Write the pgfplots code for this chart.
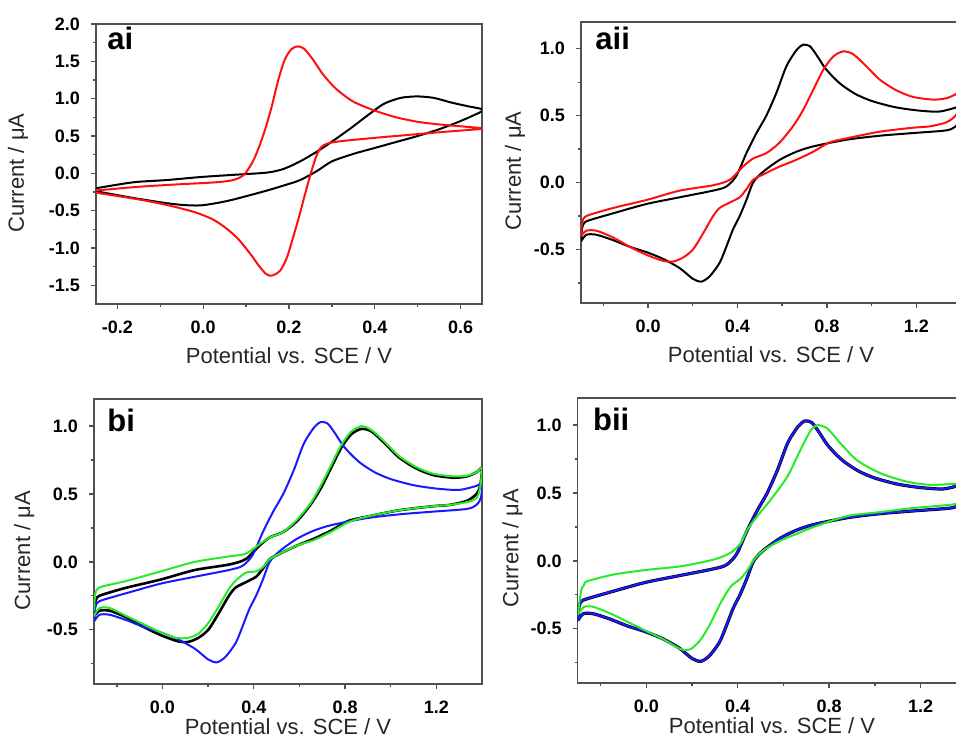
\documentclass[border=0pt]{standalone}
\usepackage{fontspec}
\setmainfont{Liberation Sans}
\usepackage{pgfplots}
\usepackage{pgfplotstable}
\pgfplotsset{compat=1.18}

\definecolor{cvred}{RGB}{255,15,15}
\definecolor{cvgreen}{RGB}{40,235,40}
\definecolor{cvblue}{RGB}{25,25,255}
\definecolor{frame}{RGB}{80,80,80}

% ---- panel ai ----
\pgfplotstableread{
x y
-0.25 -0.23
-0.15 -0.18
-0.05 -0.145
0.03 -0.12
0.07 -0.09
0.095 -0.02
0.115 0.15
0.13 0.35
0.145 0.60
0.16 0.90
0.175 1.25
0.19 1.52
0.205 1.66
0.22 1.70
0.235 1.67
0.255 1.53
0.28 1.32
0.31 1.13
0.35 0.96
0.40 0.84
0.45 0.75
0.50 0.69
0.55 0.655
0.60 0.63
0.65 0.605
0.65 0.595
0.55 0.55
0.47 0.51
0.39 0.47
0.32 0.43
0.29 0.40
0.275 0.35
0.265 0.25
0.255 0.08
0.245 -0.12
0.235 -0.33
0.225 -0.55
0.21 -0.85
0.195 -1.13
0.18 -1.30
0.165 -1.36
0.155 -1.37
0.145 -1.34
0.13 -1.24
0.11 -1.08
0.08 -0.87
0.05 -0.72
0.02 -0.61
-0.02 -0.52
-0.08 -0.43
-0.15 -0.35
-0.25 -0.26
}\aired

\pgfplotstableread{
x y
-0.25 -0.20
-0.163 -0.12
-0.085 -0.09
-0.007 -0.05
0.071 -0.02
0.149 0.01
0.188 0.06
0.226 0.16
0.265 0.29
0.304 0.44
0.343 0.60
0.382 0.77
0.421 0.93
0.46 1.01
0.499 1.03
0.538 1.01
0.577 0.95
0.616 0.90
0.65 0.86
0.65 0.83
0.60 0.70
0.55 0.59
0.50 0.50
0.45 0.42
0.40 0.34
0.35 0.26
0.30 0.16
0.265 0.03
0.226 -0.09
0.195 -0.15
0.149 -0.23
0.071 -0.35
0.03 -0.40
-0.007 -0.43
-0.045 -0.425
-0.085 -0.40
-0.163 -0.33
-0.25 -0.24
}\aiblack

% ---- fast couple (aii black, bi blue, bii black/blue) ----
\pgfplotstableread{
x y
-0.30 -0.44
-0.295 -0.34
-0.285 -0.30
-0.26 -0.28
-0.157 -0.23
-0.007 -0.16
0.141 -0.11
0.291 -0.06
0.35 -0.03
0.395 0.05
0.44 0.22
0.485 0.37
0.529 0.50
0.574 0.67
0.619 0.87
0.664 0.99
0.693 1.03
0.723 1.02
0.753 0.955
0.79 0.86
0.83 0.785
0.87 0.725
0.93 0.66
1.00 0.61
1.10 0.565
1.20 0.54
1.30 0.53
1.376 0.56
1.40 0.575
1.395 0.47
1.376 0.42
1.334 0.39
1.185 0.37
1.036 0.35
0.887 0.32
0.738 0.27
0.663 0.23
0.589 0.17
0.514 0.08
0.47 0.0
0.44 -0.13
0.41 -0.25
0.38 -0.35
0.35 -0.48
0.32 -0.60
0.276 -0.70
0.239 -0.74
0.201 -0.72
0.142 -0.64
0.067 -0.57
-0.007 -0.52
-0.082 -0.48
-0.157 -0.43
-0.231 -0.39
-0.276 -0.39
-0.30 -0.44
}\fastcv

% ---- slow couple (aii red, bi black) ----
\pgfplotstableread{
x y
-0.30 -0.40
-0.295 -0.30
-0.285 -0.26
-0.26 -0.24
-0.157 -0.19
-0.007 -0.13
0.142 -0.06
0.291 -0.02
0.365 0.02
0.425 0.12
0.47 0.18
0.529 0.22
0.589 0.30
0.648 0.42
0.693 0.54
0.738 0.69
0.783 0.84
0.827 0.94
0.872 0.98
0.917 0.96
0.976 0.87
1.036 0.77
1.11 0.69
1.185 0.64
1.275 0.62
1.334 0.63
1.376 0.66
1.40 0.69
1.392 0.56
1.376 0.50
1.334 0.45
1.26 0.42
1.185 0.41
1.036 0.38
0.887 0.33
0.812 0.30
0.738 0.23
0.663 0.17
0.589 0.12
0.514 0.06
0.47 0.02
0.44 -0.05
0.41 -0.11
0.365 -0.15
0.32 -0.19
0.291 -0.25
0.246 -0.38
0.201 -0.50
0.157 -0.56
0.112 -0.59
0.067 -0.585
-0.007 -0.54
-0.082 -0.48
-0.157 -0.41
-0.231 -0.36
-0.276 -0.36
-0.30 -0.40
}\slowcv

% ---- bi green ----
\pgfplotstableread{
x y
-0.30 -0.36
-0.295 -0.24
-0.285 -0.20
-0.26 -0.18
-0.157 -0.14
-0.007 -0.07
0.142 0.0
0.291 0.04
0.365 0.06
0.425 0.13
0.47 0.18
0.529 0.22
0.589 0.31
0.648 0.43
0.693 0.56
0.738 0.71
0.783 0.86
0.827 0.96
0.872 1.00
0.917 0.97
0.976 0.88
1.036 0.78
1.11 0.70
1.185 0.65
1.275 0.63
1.334 0.635
1.376 0.66
1.40 0.69
1.392 0.55
1.376 0.47
1.334 0.44
1.26 0.42
1.185 0.41
1.036 0.38
0.887 0.33
0.812 0.29
0.738 0.22
0.663 0.16
0.589 0.12
0.514 0.06
0.47 0.02
0.44 -0.04
0.41 -0.07
0.365 -0.08
0.32 -0.14
0.291 -0.20
0.246 -0.33
0.201 -0.45
0.157 -0.53
0.112 -0.56
0.06 -0.56
-0.007 -0.52
-0.082 -0.46
-0.157 -0.40
-0.231 -0.34
-0.276 -0.34
-0.30 -0.40
}\bigreen

% ---- bii green ----
\pgfplotstableread{
x y
-0.30 -0.40
-0.285 -0.22
-0.273 -0.18
-0.258 -0.15
-0.141 -0.10
0.004 -0.066
0.15 -0.04
0.296 0.01
0.369 0.06
0.413 0.13
0.442 0.23
0.486 0.33
0.544 0.45
0.617 0.62
0.675 0.82
0.719 0.96
0.748 1.00
0.792 0.975
0.85 0.865
0.923 0.74
1.025 0.645
1.142 0.583
1.244 0.56
1.357 0.57
1.40 0.59
1.39 0.47
1.357 0.42
1.171 0.39
1.025 0.36
0.879 0.33
0.733 0.25
0.66 0.20
0.588 0.15
0.515 0.08
0.471 0.01
0.442 -0.07
0.413 -0.13
0.369 -0.19
0.325 -0.31
0.281 -0.46
0.238 -0.58
0.194 -0.65
0.15 -0.65
0.077 -0.58
0.004 -0.52
-0.069 -0.46
-0.141 -0.40
-0.229 -0.34
-0.273 -0.34
-0.30 -0.40
}\biigreen

\pgfplotsset{
  cvaxis/.style={
    scale only axis, anchor=south west,
    axis line style={draw=frame, line width=0.7pt},
    tick style={draw=frame, line width=0.7pt},
    tick align=outside, tick pos=left,
    major tick length=2.5pt, minor tick length=1.5pt,
    ticklabel style={font=\bfseries\fontsize{9}{10}\selectfont},
    yticklabel style={xshift=-2pt},
    xticklabel style={yshift=-2.5pt},
    /pgf/number format/fixed,
    /pgf/number format/fixed zerofill,
    /pgf/number format/precision=1,
    /pgf/number format/assume math mode=true,
    label style={font=\fontsize{11}{13}\selectfont, text=black!85},
    xlabel={Potential vs. SCE / V},
    ylabel={Current / μA},
    every axis plot/.append style={line width=1pt, smooth, tension=0.45, no markers},
  },
  wide/.style={
    xmin=-0.3, xmax=1.4, ymin=-0.9, ymax=1.2,
    xtick={0,0.4,0.8,1.2}, minor xtick={-0.2,0.2,0.6,1.0},
    ytick={-0.5,0,0.5,1}, minor ytick={-0.75,-0.25,0.25,0.75},
  },
}
\newcommand{\plabel}[3]{\node[anchor=base west, inner sep=0pt, font=\bfseries\fontsize{15.5}{15.5}\selectfont, xshift=#1, yshift=#2] at (rel axis cs:0,1) {#3};}

\begin{document}
\begin{tikzpicture}
\path[use as bounding box] (0,0) rectangle (478pt,369.5pt);
\clip (0,0) rectangle (478pt,369.5pt);

% ai
\begin{axis}[cvaxis, at={(48pt,217.5pt)}, width=193pt, height=140pt,
  xmin=-0.25, xmax=0.65, ymin=-1.75, ymax=2.0,
  xtick={-0.2,0,0.2,0.4,0.6}, minor xtick={-0.1,0.1,0.3,0.5},
  ytick={-1.5,-1,-0.5,0,0.5,1,1.5,2}, minor ytick={-1.25,-0.75,-0.25,0.25,0.75,1.25,1.75},
  ylabel style={at={(axis description cs:-0.202,0.468)}, anchor=center},
  xlabel style={at={(axis description cs:0.5,-0.212)}, anchor=base},
]
\addplot[black] table {\aiblack};
\addplot[cvred] table {\aired};
\plabel{5.5pt}{-13pt}{ai}
\end{axis}

% aii
\begin{axis}[cvaxis, wide, at={(290.5pt,218pt)}, width=190pt, height=140.5pt,
  ylabel style={at={(axis description cs:-0.174,0.47)}, anchor=center},
  xlabel style={at={(axis description cs:0.5,-0.2135)}, anchor=base},
]
\addplot[black] table {\fastcv};
\addplot[cvred] table {\slowcv};
\plabel{7pt}{-14pt}{aii}
\end{axis}

% bi
\begin{axis}[cvaxis, wide, at={(47pt,27.5pt)}, width=194pt, height=142.5pt,
  ylabel style={at={(axis description cs:-0.18,0.468)}, anchor=center},
  xlabel style={at={(axis description cs:0.5,-0.178)}, anchor=base},
]
\addplot[black, line width=1.3pt] table {\slowcv};
\addplot[cvblue] table {\fastcv};
\addplot[cvgreen] table {\bigreen};
\plabel{6.5pt}{-16pt}{bi}
\end{axis}

% bii
\begin{axis}[cvaxis, wide, at={(288.85pt,28pt)}, width=194.3pt, height=142.5pt,
  ylabel style={at={(axis description cs:-0.168,0.473)}, anchor=center},
  xlabel style={at={(axis description cs:0.5,-0.176)}, anchor=base},
]
\addplot[black, line width=1.6pt] table {\fastcv};
\addplot[cvblue] table {\fastcv};
\addplot[cvgreen] table {\biigreen};
\plabel{7.5pt}{-16pt}{bii}
\end{axis}
\end{tikzpicture}
\end{document}
